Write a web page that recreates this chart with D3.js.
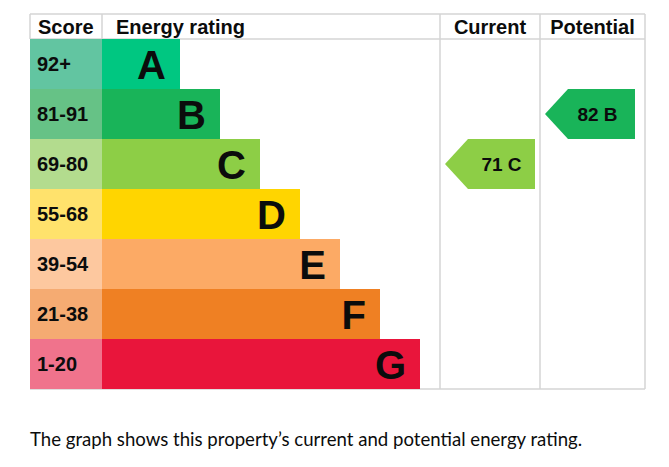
<!DOCTYPE html>
<html>
<head>
<meta charset="utf-8">
<script src="https://cdnjs.cloudflare.com/ajax/libs/d3/7.8.5/d3.min.js"></script>
<style>
  body { margin: 0; background: #fff; }
  svg { display: block; }
</style>
</head>
<body>
<svg id="epc"></svg>
<script>
// rating bands, best to worst
var bands = ["A", "B", "C", "D", "E", "F", "G"];
var scoreRanges = ["92+", "81-91", "69-80", "55-68", "39-54", "21-38", "1-20"];
var bandMins = [92, 81, 69, 55, 39, 21, 1];
var bandColors = ["#00c781", "#19b459", "#8dce46", "#ffd500", "#fcaa65", "#ef8023", "#e9153b"];
var scoreColors = ["#62c5a1", "#66c286", "#b3dc8e", "#ffe26c", "#fdc89f", "#f5ab72", "#f0738c"];
var currentScore = 71;
var potentialScore = 82;
var caption = "The graph shows this property\u2019s current and potential energy rating.";

var width = 669,
height = 467;

var tblLeft = 30, scoreW = 72, tblRight = 645,
tblTop = 14, headH = 25, rowsBottom = 389,
curX = 440, potX = 540;
var gridColor = "#d4d4d4";

var svg = d3.select("#epc")
  .attr("width", width)
  .attr("height", height);

var y = d3.scaleBand()
  .domain(bands)
  .range([tblTop + headH, rowsBottom]);

// bar end grows 40px per band
var barEnd = d3.scaleLinear()
  .domain([0, bands.length - 1])
  .range([180, 420]);

function bandFor(score) {
  for (var i = 0; i < bandMins.length; i++) {
    if (score >= bandMins[i]) return bands[i];
  }
  return bands[bands.length - 1];
}

// grid
var grid = svg.append("g")
  .attr("stroke", gridColor)
  .attr("stroke-width", 1.5)
  .attr("fill", "none");

grid.append("line").attr("x1", tblLeft).attr("x2", tblRight).attr("y1", tblTop).attr("y2", tblTop);
grid.append("line").attr("x1", tblLeft).attr("x2", tblRight).attr("y1", tblTop + headH).attr("y2", tblTop + headH);
grid.append("line").attr("x1", tblLeft).attr("x2", tblRight).attr("y1", rowsBottom).attr("y2", rowsBottom);
grid.append("line").attr("x1", tblLeft).attr("x2", tblLeft).attr("y1", tblTop).attr("y2", tblTop + headH);
grid.append("line").attr("x1", tblLeft + scoreW).attr("x2", tblLeft + scoreW).attr("y1", tblTop).attr("y2", tblTop + headH);
[curX, potX, tblRight].forEach(function(x) {
  grid.append("line").attr("x1", x).attr("x2", x).attr("y1", tblTop).attr("y2", rowsBottom);
});

// header
var head = svg.append("g")
  .style("font-family", "'Liberation Sans', Arial, sans-serif")
  .style("font-weight", "bold")
  .style("font-size", "20px")
  .attr("fill", "#0b0c0c");

head.append("text").attr("x", 38).attr("y", 34).text("Score");
head.append("text").attr("x", 116).attr("y", 34).text("Energy rating");
head.append("text").attr("x", (curX + potX) / 2).attr("y", 34)
  .attr("text-anchor", "middle").text("Current");
head.append("text").attr("x", (potX + tblRight) / 2).attr("y", 34)
  .attr("text-anchor", "middle").text("Potential");

// rows
var rows = svg.selectAll(".band")
  .data(bands)
  .enter().append("g")
  .attr("class", "band");

rows.append("rect")
  .attr("x", tblLeft)
  .attr("y", function(d) { return y(d); })
  .attr("width", scoreW)
  .attr("height", y.bandwidth())
  .attr("fill", function(d, i) { return scoreColors[i]; });

rows.append("rect")
  .attr("x", tblLeft + scoreW)
  .attr("y", function(d) { return y(d); })
  .attr("width", function(d, i) { return barEnd(i) - tblLeft - scoreW; })
  .attr("height", y.bandwidth())
  .attr("fill", function(d, i) { return bandColors[i]; });

rows.append("text")
  .attr("x", 37)
  .attr("y", function(d) { return y(d) + y.bandwidth() / 2 + 7; })
  .style("font-family", "'Liberation Sans', Arial, sans-serif")
  .style("font-weight", "bold")
  .style("font-size", "20px")
  .attr("fill", "#0b0c0c")
  .text(function(d, i) { return scoreRanges[i]; });

rows.append("text")
  .attr("x", function(d, i) { return barEnd(i) - 14; })
  .attr("y", function(d) { return y(d) + y.bandwidth() / 2 + 14.5; })
  .attr("text-anchor", "end")
  .style("font-family", "'Liberation Sans', Arial, sans-serif")
  .style("font-weight", "bold")
  .style("font-size", "40px")
  .attr("fill", "#0b0c0c")
  .text(function(d) { return d; });

// rating arrows
var arrows = [
  { score: currentScore, x0: curX + 5, x1: potX - 5, dx: 0 },
  { score: potentialScore, x0: potX + 5, x1: tblRight - 10, dx: -4 }
];

var arrow = svg.selectAll(".arrow")
  .data(arrows)
  .enter().append("g")
  .attr("class", "arrow");

arrow.append("path")
  .attr("d", function(d) {
    var b = bandFor(d.score), t = y(b), h = y.bandwidth(), p = 23;
    return "M" + d.x0 + "," + (t + h / 2) +
      "L" + (d.x0 + p) + "," + t +
      "L" + d.x1 + "," + t +
      "L" + d.x1 + "," + (t + h) +
      "L" + (d.x0 + p) + "," + (t + h) + "Z";
  })
  .attr("fill", function(d) { return bandColors[bands.indexOf(bandFor(d.score))]; });

arrow.append("text")
  .attr("x", function(d) { return (d.x0 + 23 + d.x1) / 2 + d.dx; })
  .attr("y", function(d) { return y(bandFor(d.score)) + y.bandwidth() / 2 + 6.5; })
  .attr("text-anchor", "middle")
  .style("font-family", "'Liberation Sans', Arial, sans-serif")
  .style("font-weight", "bold")
  .style("font-size", "19px")
  .style("white-space", "pre")
  .attr("fill", "#0b0c0c")
  .text(function(d) { return d.score + " " + bandFor(d.score); });

// caption
svg.append("text")
  .attr("x", 30)
  .attr("y", 446)
  .style("font-family", "Lato, sans-serif")
  .style("font-size", "18.6px")
  .attr("fill", "#0b0c0c")
  .text(caption);
</script>
</body>
</html>
